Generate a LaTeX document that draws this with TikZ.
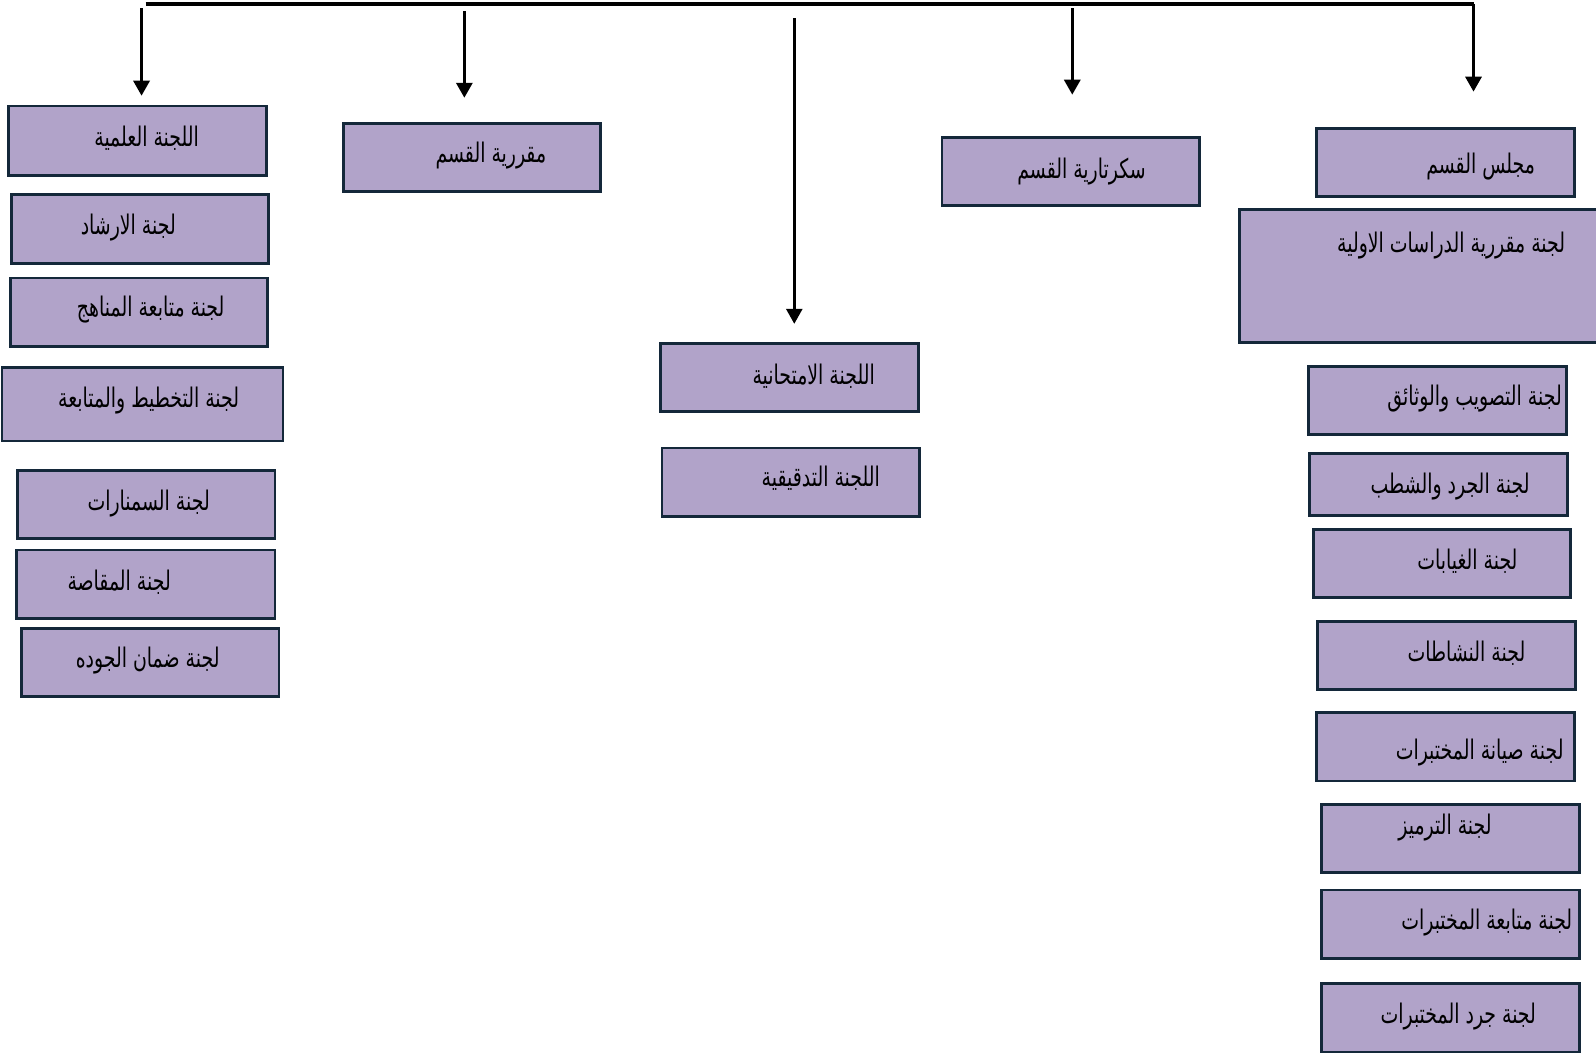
\documentclass[tikz,border=0pt]{standalone}
\usepackage{fontspec}
\TeXXeTstate=1
\newfontfamily\arabicfont[Script=Arabic,FakeStretch=0.7]{DejaVu Sans}
\usetikzlibrary{arrows.meta}
\definecolor{boxfill}{HTML}{B1A3C9}
\definecolor{boxline}{HTML}{14283A}
\tikzset{
  orgbox/.style={draw=boxline, fill=boxfill, line width=2.8pt, inner sep=0pt, outer sep=0pt, anchor=north west},
  lbl/.style={inner sep=0pt, font=\arabicfont\fontsize{27}{31}\selectfont, text=black},
  conn/.style={line width=3.2pt, black},
  arr/.style={conn, -{Triangle[width=16pt,length=15pt]}}
}
\newcommand\obox[8]{%
  \node[orgbox, minimum width={(#4-#2)*1.0183pt}, minimum height={(#5-#3)*1.0183pt}] (#1) at (#2,#3) {};
  \node[lbl] (#1t) at (#6,#7+1) {#8};
}
\begin{document}
\begin{tikzpicture}[x=1.0183pt,y=-1.0183pt]
\useasboundingbox (0,0) rectangle (1567.3,1034.1);
% left column
\obox{a1}{8}{104}{262}{172}{144}{135}{\beginR اللجنة العلمية\endR}
\obox{a2}{11}{191}{264}{259}{126}{222}{\beginR لجنة  الارشاد\endR}
\obox{a3}{10}{273}{263}{340}{148}{303}{\beginR لجنة متابعة المناهج\endR}
\obox{a4}{2}{361}{278}{433}{146}{392}{\beginR لجنة التخطيط والمتابعة\endR}
\obox{a5}{17}{462}{270}{529}{146}{493}{\beginR لجنة  السمنارات\endR}
\obox{a6}{16}{540}{270}{607}{117}{571}{\beginR لجنة  المقاصة\endR}
\obox{a7}{21}{617}{274}{684}{145}{648}{\beginR لجنة  ضمان  الجوده\endR}
% second
\obox{b1}{337}{121}{590}{188}{482}{152}{\beginR مقررية القسم\endR}
% middle
\obox{c1}{649}{337}{902}{404}{799}{368}{\beginR اللجنة  الامتحانية\endR}
\obox{c2}{650}{440}{903}{507}{806}{469}{\beginR اللجنة  التدقيقية\endR}
% fourth
\obox{d1}{925}{135}{1178}{202}{1062}{167}{\beginR سكرتارية القسم\endR}
% right column
\obox{e1}{1293}{126}{1546}{193}{1454}{163}{\beginR مجلس القسم\endR}
\obox{e2}{1217}{206}{1572}{336}{1425}{240}{\beginR لجنة مقررية الدراسات الاولية\endR}
\obox{e3}{1285}{360}{1538}{427}{1448}{390}{\beginR لجنة  التصويب  والوثائق\endR}
\obox{e4}{1286}{445}{1539}{506}{1424}{477}{\beginR لجنة  الجرد  والشطب\endR}
\obox{e5}{1290}{520}{1542}{587}{1441}{550}{\beginR لجنة الغيابات\endR}
\obox{e6}{1294}{610}{1547}{677}{1440}{640}{\beginR لجنة النشاطات\endR}
\obox{e7}{1293}{700}{1546}{767}{1453}{738}{\beginR لجنة  صيانة  المختبرات\endR}
\obox{e8}{1298}{790}{1551}{857}{1419}{812}{\beginR لجنة الترميز\endR}
\obox{e9}{1298}{874}{1551}{941}{1460}{905}{\beginR لجنة متابعة  المختبرات\endR}
\obox{e10}{1298}{966}{1551}{1033}{1432}{997}{\beginR لجنة جرد المختبرات\endR}
% connectors
\coordinate (top) at (143,4);
\coordinate (corner) at (1447,4);
\coordinate (s1) at (139,8);   \coordinate (t1) at (139,94);
\coordinate (s2) at (456,11);  \coordinate (t2) at (456,96);
\coordinate (s3) at (780,18);  \coordinate (t3) at (780,318);
\coordinate (s4) at (1053,8);  \coordinate (t4) at (1053,93);
\coordinate (t5) at (1447,90);
\draw[conn] (top) -- (corner);
\draw[arr] (corner) -- (t5);
\draw[arr] (s1) -- (t1);
\draw[arr] (s2) -- (t2);
\draw[arr, line width=2.6pt] (s3) -- (t3);
\draw[arr] (s4) -- (t4);
\end{tikzpicture}
\end{document}
